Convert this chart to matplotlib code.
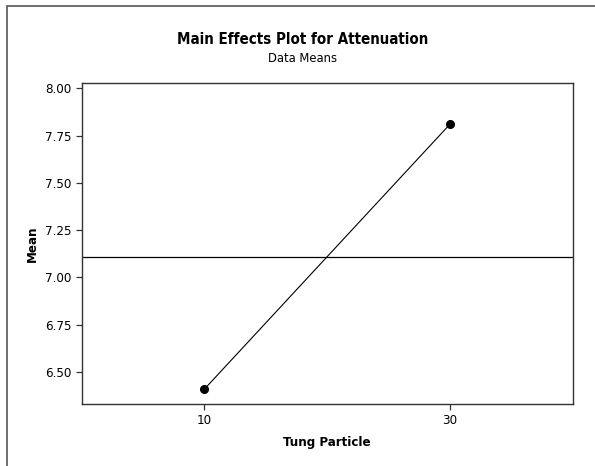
import numpy as np
import matplotlib
matplotlib.use("Agg")
import matplotlib.pyplot as plt
from matplotlib.patches import Rectangle

# Data
levels = [10, 30]
means = [6.41, 7.81]
grand_mean = np.mean(means)
y_ticks = [6.50, 6.75, 7.00, 7.25, 7.50, 7.75, 8.00]

plt.rcParams['font.family'] = ['DejaVu Sans']
plt.rcParams['font.stretch'] = 'condensed'

fig = plt.figure(figsize=(5.95, 4.66), dpi=100)
ax = fig.add_axes([0.1373, 0.1330, 0.8252, 0.6889])

# Main effects line and grand mean reference
ax.plot(levels, means, color='black', linewidth=0.8, marker='o',
        markersize=5.5, markerfacecolor='black', markeredgecolor='black')
ax.axhline(grand_mean, color='black', linewidth=0.9)

ax.set_xlim(0, 40)
ax.set_ylim(6.331, 8.028)
ax.set_xticks(levels)
ax.set_yticks(y_ticks)
ax.set_yticklabels([f"{v:.2f}" for v in y_ticks])
ax.tick_params(direction='out', length=4, width=0.9, labelsize=9.5,
               colors='#333333', labelcolor='black')
for sp in ax.spines.values():
    sp.set_color('#333333')
    sp.set_linewidth(1.0)

ax.set_xlabel("Tung Particle", fontsize=9.5, fontweight='bold', labelpad=6)
ax.set_ylabel("Mean", fontsize=9.5, fontweight='bold', labelpad=4)

# Titles sit slightly left of the plot centre in the original
fig.text(0.509, 1 - 39 / 466, "Main Effects Plot for Attenuation",
         ha='center', va='center', fontsize=10.8, fontweight='bold')
fig.text(0.509, 1 - 59 / 466, "Data Means", ha='center', va='center',
         fontsize=9.3)

# Outer frame (only left and top edges visible in the original crop)
fig.patches.append(Rectangle((7 / 595, -0.1), 1.2, (466 - 6) / 466 + 0.1,
                             transform=fig.transFigure, fill=False,
                             edgecolor='#555555', linewidth=1.2))

fig.savefig("out.png", dpi=100)
